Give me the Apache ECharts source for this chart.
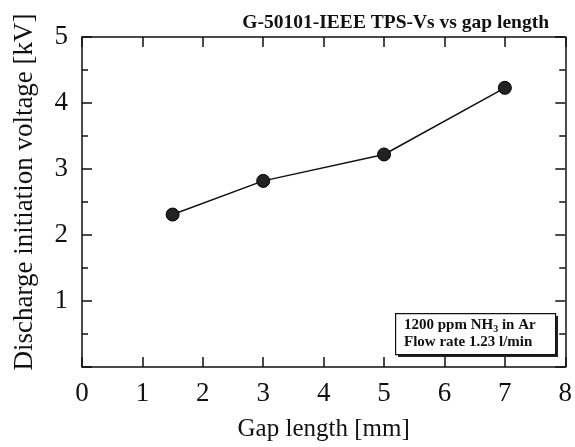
<!DOCTYPE html>
<html lang="en">

<head>
  <meta charset="UTF-8">
  <title>Discharge initiation voltage vs gap length</title>
  <script src="https://cdn.jsdelivr.net/npm/echarts@6/dist/echarts.min.js"></script>
</head>

<body style="margin:0;background:#fff">
  <div id="main" style="width: 575px;height:447px"></div>
  <script>
    // gap length [mm] and voltage [kV]
    var gapLength = [1.5, 3, 5, 7]
    var voltage = [2.31, 2.82, 3.22, 4.23]
    var xTicks = [0, 1, 2, 3, 4, 5, 6, 7, 8]
    var yTicks = [0, 1, 2, 3, 4, 5]

    var serif = 'Liberation Serif'
    var points = []
    for (var i = 0; i < gapLength.length; i++) {
      points.push([gapLength[i], voltage[i]])
    }

    var mCharts = echarts.init(document.getElementById('main'))
    var lineStyle = { color: '#111', width: 1.5 }
    // top and right axes only repeat the ticks, so onZero must be off
    var option = {
      backgroundColor: '#fff',
      animation: false,
      title: {
        text: 'G-50101-IEEE TPS-Vs vs gap length',
        right: 21,
        top: 8,
        textStyle: { fontFamily: serif, fontSize: 19.5, fontWeight: 'bold', color: '#111' }
      },
      grid: { left: 82, right: 9, top: 37, bottom: 69 },
      xAxis: [{
        type: 'value',
        position: 'bottom',
        min: xTicks[0],
        max: xTicks[xTicks.length - 1],
        interval: 1,
        name: 'Gap length [mm]',
        nameLocation: 'middle',
        nameGap: 50,
        nameTextStyle: { fontFamily: serif, fontSize: 25, color: '#111' },
        axisLine: { onZero: false, lineStyle: lineStyle },
        axisTick: { inside: true, length: 10, lineStyle: lineStyle },
        axisLabel: { fontFamily: serif, fontSize: 27, color: '#111', margin: 13 },
        splitLine: { show: false }
      }, {
        type: 'value',
        position: 'top',
        min: xTicks[0],
        max: xTicks[xTicks.length - 1],
        interval: 1,
        axisLine: { onZero: false, lineStyle: lineStyle },
        axisTick: { inside: true, length: 10, lineStyle: lineStyle },
        axisLabel: { show: false },
        splitLine: { show: false }
      }],
      yAxis: [{
        type: 'value',
        position: 'left',
        min: yTicks[0],
        max: yTicks[yTicks.length - 1],
        interval: 1,
        axisLine: { onZero: false, lineStyle: lineStyle },
        axisTick: { inside: true, length: 10, lineStyle: lineStyle },
        minorTick: { show: true, splitNumber: 2, length: 6, lineStyle: lineStyle },
        axisLabel: {
          fontFamily: serif, fontSize: 27, color: '#111', margin: 14,
          formatter: function (v) { return v === 0 ? '' : v }
        },
        splitLine: { show: false }
      }, {
        type: 'value',
        position: 'right',
        min: yTicks[0],
        max: yTicks[yTicks.length - 1],
        interval: 1,
        axisLine: { onZero: false, lineStyle: lineStyle },
        axisTick: { inside: true, length: 10, lineStyle: lineStyle },
        minorTick: { show: true, splitNumber: 2, length: 6, lineStyle: lineStyle },
        axisLabel: { show: false },
        splitLine: { show: false }
      }],
      series: [{
        type: 'line',
        data: points,
        symbol: 'circle',
        symbolSize: 13,
        lineStyle: { color: '#111', width: 1.5 },
        itemStyle: { color: '#222', borderColor: '#000', borderWidth: 1 }
      }],
      graphic: [{
        type: 'text',
        x: 25,
        y: 192,
        rotation: Math.PI / 2,
        style: {
          text: 'Discharge initiation voltage [kV]',
          font: '27px "Liberation Serif"',
          fill: '#111',
          align: 'center',
          verticalAlign: 'middle'
        }
      }, {
        // drop shadow of the note box
        type: 'rect',
        left: 398,
        top: 316,
        shape: { width: 160, height: 41 },
        style: { fill: '#222' }
      }, {
        type: 'rect',
        left: 395,
        top: 313,
        shape: { width: 160, height: 41 },
        style: { fill: '#fff', stroke: '#111', lineWidth: 1.2 }
      }, {
        type: 'text',
        left: 404,
        top: 317,
        style: {
          text: '{b|1200 ppm NH}{s|3}{b| in Ar}\n{b|Flow rate 1.23 l/min}',
          rich: {
            b: { fontFamily: serif, fontSize: 15, fontWeight: 'bold', fill: '#111', lineHeight: 17 },
            s: { fontFamily: serif, fontSize: 10, fontWeight: 'bold', fill: '#111', lineHeight: 17, padding: [7, 0, 0, 0] }
          }
        }
      }]
    }
    mCharts.setOption(option)
  </script>
</body>

</html>
